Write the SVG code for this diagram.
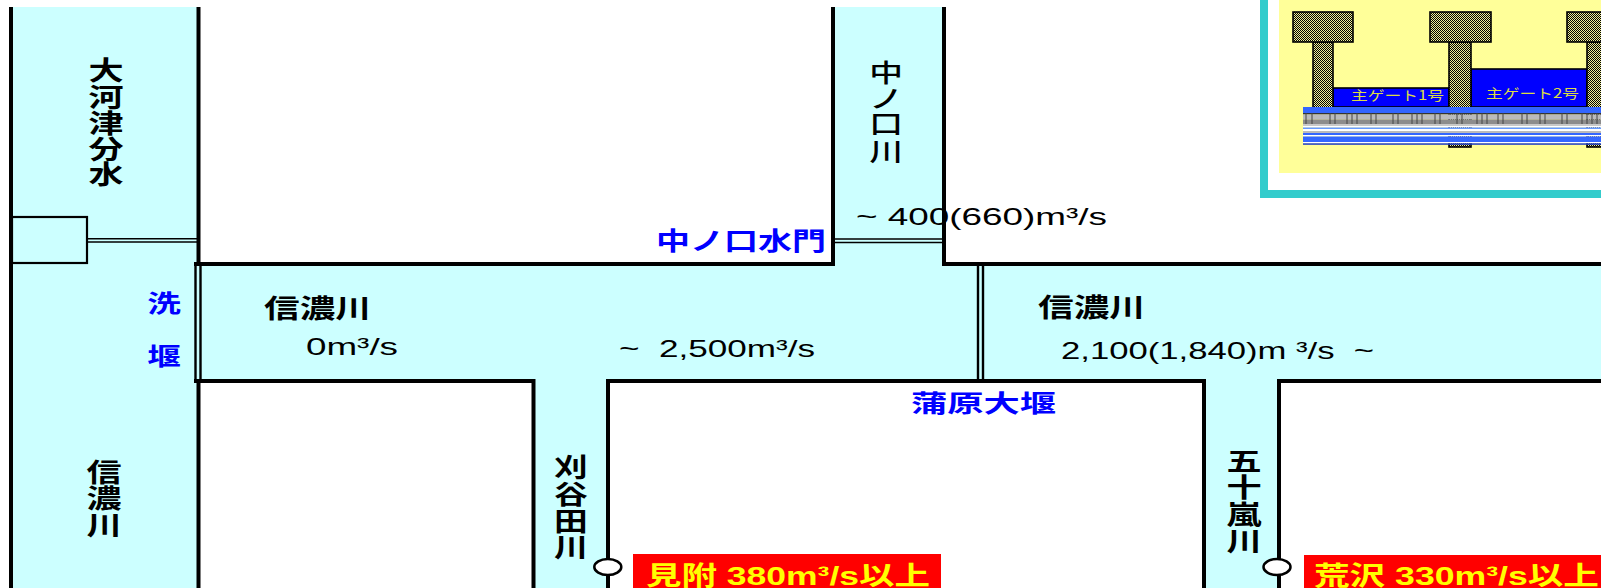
<svg xmlns="http://www.w3.org/2000/svg" width="1601" height="588" viewBox="0 0 1601 588">
  <defs>
    <style>
      .water { fill: #CCFFFF; }
      .bank { fill: none; stroke: #000; stroke-width: 4; stroke-linejoin: miter; }
      .gate { fill: none; stroke: #000; stroke-width: 1.6; }
      .weir { fill: none; stroke: #000; stroke-width: 2.4; }
      .jp { font-family: "Noto Sans CJK JP", "Noto Sans", sans-serif; font-weight: bold; font-size: 26px; fill: #000; text-anchor: middle; }
      .jpl { font-family: "Noto Sans CJK JP", "Noto Sans", sans-serif; font-weight: bold; font-size: 26px; fill: #000; }
      .blue { fill: #0000FF; }
      .num { font-family: "Liberation Sans", Arial, "Noto Sans CJK JP", sans-serif; font-size: 24px; fill: #000; white-space: pre; }
      .alert { font-family: "Liberation Sans", Arial, "Noto Sans CJK JP", sans-serif; font-weight: bold; font-size: 26px; fill: #FFFF00; }
      .gatelabel { font-family: "Noto Sans CJK JP", sans-serif; font-size: 13px; fill: #DDDD44; }
      .pier { fill: url(#checker); stroke: #000; stroke-width: 1.6; }
    </style>
    <pattern id="checker" patternUnits="userSpaceOnUse" width="2" height="2">
      <rect width="2" height="2" fill="#EEEE99"/>
      <rect width="1" height="1" fill="#000"/>
      <rect x="1" y="1" width="1" height="1" fill="#000"/>
    </pattern>
  </defs>

  <rect width="1601" height="588" fill="#FFFFFF"/>

  <!-- river surfaces -->
  <g id="water">
    <rect class="water" x="11" y="7" width="188" height="581"/>
    <rect class="water" x="196" y="264" width="1405" height="117"/>
    <rect class="water" x="833" y="7" width="111" height="259"/>
    <rect class="water" x="533" y="379" width="75" height="209"/>
    <rect class="water" x="1204" y="379" width="75" height="209"/>
  </g>

  <!-- inset: main gates of the weir -->
  <g id="inset-gates">
    <rect x="1260" y="0" width="341" height="198" fill="#33CCCC"/>
    <rect x="1268" y="0" width="333" height="190" fill="#FFFFFF"/>
    <rect x="1279" y="0" width="322" height="173" fill="#FFFF99"/>
    <!-- gate leaves -->
    <rect x="1333" y="88" width="116" height="19" fill="#0000FF" stroke="#000" stroke-width="1.6"/>
    <rect x="1471" y="69" width="116" height="38" fill="#0000FF" stroke="#000" stroke-width="1.6"/>
    <!-- piers -->
    <rect class="pier" x="1313" y="42" width="20" height="66"/>
    <rect class="pier" x="1449" y="42" width="22" height="105"/>
    <rect class="pier" x="1587" y="42" width="22" height="105"/>
    <rect class="pier" x="1293" y="12" width="60" height="30"/>
    <rect class="pier" x="1430" y="12" width="61" height="30"/>
    <rect class="pier" x="1567" y="12" width="60" height="30"/>
    <!-- weir body -->
    <g id="weir-body">
      <rect x="1303" y="107" width="298" height="6" fill="#3366FF"/>
      <rect x="1303" y="113" width="298" height="1.5" fill="#333333"/>
      <rect x="1303" y="114.5" width="298" height="5" fill="#BBBBBB"/>
      <rect x="1303" y="119.5" width="298" height="4.5" fill="#8C8C8C"/>
      <rect x="1303" y="124" width="298" height="2" fill="#C8C8C8"/>
      <rect x="1303" y="126" width="298" height="1.5" fill="#FFFFFF"/>
      <rect x="1303" y="127.5" width="298" height="1.5" fill="#6699FF"/>
      <rect x="1303" y="129" width="298" height="2" fill="#FFFFFF"/>
      <rect x="1303" y="131" width="298" height="2" fill="#BBBBBB"/>
      <rect x="1303" y="133" width="298" height="2" fill="#3366FF"/>
      <rect x="1303" y="135" width="298" height="1.5" fill="#FFFFFF"/>
      <rect x="1303" y="136.5" width="298" height="5.5" fill="#3366FF"/>
      <rect x="1303" y="142" width="298" height="1.3" fill="#FFFFFF"/>
      <rect x="1303" y="143.3" width="298" height="1.5" fill="#1E3CC8"/>
      <path d="M1306 113v11M1312 113v11M1330 113v11M1335 113v11M1347 113v11M1352 113v11M1357 113v11M1371 113v11M1376 113v11M1393 113v11M1398 113v11M1412 113v11M1417 113v11M1422 113v11M1435 113v11M1440 113v11M1457 113v11M1462 113v11M1477 113v11M1482 113v11M1487 113v11M1498 113v11M1503 113v11M1522 113v11M1527 113v11M1540 113v11M1545 113v11M1562 113v11M1567 113v11M1582 113v11M1587 113v11M1592 113v11M1597 113v11" stroke="#444444" stroke-width="1"/>
    </g>
    <text class="gatelabel" x="1351" y="100" textLength="93" lengthAdjust="spacingAndGlyphs">主ゲート1号</text>
    <text class="gatelabel" x="1486" y="98" textLength="93" lengthAdjust="spacingAndGlyphs">主ゲート2号</text>
  </g>

  <!-- river banks -->
  <g id="banks">
    <path class="bank" d="M11 7V588"/>
    <path class="bank" d="M198.5 7V265"/>
    <path class="bank" d="M198.5 379V588"/>
    <path class="bank" d="M194 264H833V7"/>
    <path class="bank" d="M944 7V264H1601"/>
    <path class="bank" d="M194 381H533.5V588"/>
    <path class="bank" d="M608 588V381H1204V588"/>
    <path class="bank" d="M1279 588V381H1601"/>
  </g>

  <!-- gates and weirs -->
  <g id="structures">
    <rect x="12" y="217" width="75" height="46" fill="#CCFFFF" stroke="#000" stroke-width="2.2"/>
    <path class="gate" d="M87 238.7H197M87 242H197"/>
    <path class="gate" d="M833 239H944M833 242.5H944"/>
    <path class="weir" d="M195.5 262V381M200.5 262V381"/>
    <path class="weir" d="M978 264V381M983 264V381"/>
    <ellipse cx="607.8" cy="567" rx="13.5" ry="8" fill="#FFFFFF" stroke="#000" stroke-width="2.5"/>
    <ellipse cx="1277" cy="567" rx="13.5" ry="8" fill="#FFFFFF" stroke="#000" stroke-width="2.5"/>
  </g>

  <!-- river names, one character per line -->
  <g id="label-okozu" transform="translate(106 0) scale(1.35 1)">
    <text class="jp" x="0" y="80">大</text>
    <text class="jp" x="0" y="107">河</text>
    <text class="jp" x="0" y="133">津</text>
    <text class="jp" x="0" y="159">分</text>
    <text class="jp" x="0" y="184">水</text>
  </g>
  <g id="label-shinano-left" transform="translate(104 0) scale(1.35 1)">
    <text class="jp" x="0" y="482">信</text>
    <text class="jp" x="0" y="508">濃</text>
    <text class="jp" x="0" y="535">川</text>
  </g>
  <g id="label-araizeki" transform="translate(164 0) scale(1.4 1)">
    <text class="jp blue" x="0" y="312" style="font-size:24px">洗</text>
    <text class="jp blue" x="0" y="365" style="font-size:24px">堰</text>
  </g>
  <g id="label-nakanokuchi" transform="translate(886 0) scale(1.35 1)">
    <text class="jp" x="0" y="82" style="font-weight:500;font-size:25px">中</text>
    <text class="jp" x="0" y="108" style="font-weight:500;font-size:25px">ノ</text>
    <text class="jp" x="0" y="133" style="font-weight:500;font-size:25px">口</text>
    <text class="jp" x="0" y="161" style="font-weight:500;font-size:25px">川</text>
  </g>
  <g id="label-kariyata" transform="translate(571 0) scale(1.3 1)">
    <text class="jp" x="0" y="477">刈</text>
    <text class="jp" x="0" y="504">谷</text>
    <text class="jp" x="0" y="531">田</text>
    <text class="jp" x="0" y="557">川</text>
  </g>
  <g id="label-ikarashi" transform="translate(1244 0) scale(1.35 1)">
    <text class="jp" x="0" y="471">五</text>
    <text class="jp" x="0" y="497">十</text>
    <text class="jp" x="0" y="524">嵐</text>
    <text class="jp" x="0" y="551">川</text>
  </g>

  <g id="label-shinano-west">
    <text class="jpl" x="264" y="318" textLength="107" lengthAdjust="spacingAndGlyphs">信濃川</text>
    <text class="num" x="306" y="355" textLength="92" lengthAdjust="spacingAndGlyphs">0m³/s</text>
    <text class="num" x="619" y="357" textLength="196" lengthAdjust="spacingAndGlyphs">~  2,500m³/s</text>
  </g>
  <g id="label-shinano-east">
    <text class="jpl" x="1038" y="317" textLength="107" lengthAdjust="spacingAndGlyphs">信濃川</text>
    <text class="num" x="1061" y="359" textLength="313" lengthAdjust="spacingAndGlyphs">2,100(1,840)m ³/s  ~</text>
  </g>
  <g id="label-nakanokuchi-flow">
    <text class="num" x="856" y="225" textLength="251" lengthAdjust="spacingAndGlyphs">~ 400(660)m³/s</text>
  </g>
  <g id="label-gates">
    <text class="jpl blue" x="656" y="250" style="font-size:25px" textLength="170" lengthAdjust="spacingAndGlyphs">中ノ口水門</text>
    <text class="jpl blue" x="911" y="412" style="font-size:24px" textLength="145" lengthAdjust="spacingAndGlyphs">蒲原大堰</text>
  </g>

  <!-- warning levels -->
  <g id="alert-mitsuke">
    <rect x="633" y="554" width="308" height="34" fill="#FF0000"/>
    <text class="alert" x="646" y="585" textLength="284" lengthAdjust="spacingAndGlyphs">見附 380m³/s以上</text>
  </g>
  <g id="alert-arasawa">
    <rect x="1304" y="555" width="297" height="33" fill="#FF0000"/>
    <text class="alert" x="1314" y="585" textLength="285" lengthAdjust="spacingAndGlyphs">荒沢 330m³/s以上</text>
  </g>
</svg>
